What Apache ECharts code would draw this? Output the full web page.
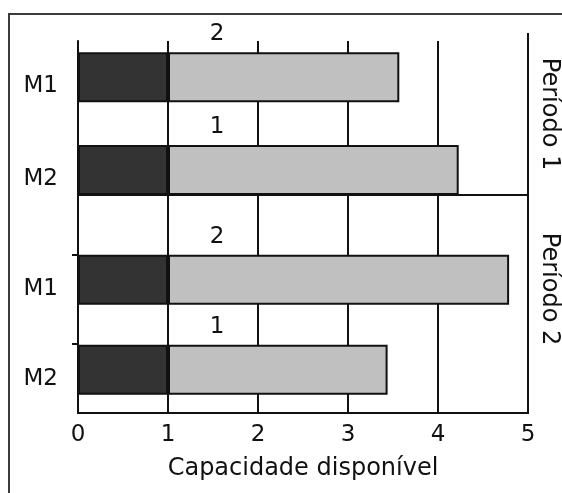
<!DOCTYPE html>
<html><head><meta charset="utf-8">
<script src="https://cdn.jsdelivr.net/npm/echarts@6/dist/echarts.min.js"></script>
<style>html,body{margin:0;padding:0;background:#fff}#c{width:562px;height:493px}</style>
</head><body><div id="c"></div>
<script>
// ---- data ----
const machines = ['M1', 'M2'];
const periods = ['Período 1', 'Período 2'];
const xMin = 0, xMax = 5, xStep = 1;
const setupEnd = [1, 1];          // dark segment ends (both periods)
const period1End = [3.57, 4.23];  // light segment ends, Período 1
const period2End = [4.79, 3.44];  // light segment ends, Período 2
const jobLabels = ['2', '1'];
const axisTitle = 'Capacidade disponível';

// ---- styles ----
const FONT = '"DejaVu Sans", sans-serif';
const DARK = '#333333', LIGHT = '#c0c0c0', INK = '#111111';

const chart = echarts.init(document.getElementById('c'), null, {renderer: 'canvas'});

function lightSeg(ends) { return ends.map((v, i) => +(v - setupEnd[i]).toFixed(2)); }

function periodSeries(idx, ends) {
  return [
    {
      type: 'bar', xAxisIndex: idx, yAxisIndex: idx, stack: 'p' + idx,
      barWidth: 50, data: setupEnd.slice(), silent: true,
      itemStyle: {color: DARK, borderColor: INK, borderWidth: 2}
    },
    {
      type: 'bar', xAxisIndex: idx, yAxisIndex: idx, stack: 'p' + idx,
      barWidth: 50, data: lightSeg(ends), silent: true,
      itemStyle: {color: LIGHT, borderColor: INK, borderWidth: 2},
      label: {
        show: true, position: [49, -18], align: 'center', verticalAlign: 'middle',
        formatter: p => jobLabels[p.dataIndex],
        fontFamily: FONT, fontSize: 23, color: INK
      }
    }
  ];
}

const hiddenX = idx => ({
  type: 'value', gridIndex: idx, min: xMin, max: xMax, interval: xStep,
  show: false
});
const catY = idx => ({
  type: 'category', gridIndex: idx, data: machines, inverse: true,
  axisLine: {show: false}, axisTick: {show: false}, splitLine: {show: false},
  axisLabel: {
    show: true, margin: 20, fontFamily: FONT, fontSize: 23, color: INK,
    verticalAlign: 'top', lineHeight: 18
  }
});

const gridBase = {left: 78, right: 34, containLabel: false, outerBoundsMode: 'none'};

chart.setOption({
  animation: false,
  backgroundColor: '#ffffff',
  grid: [
    Object.assign({top: 41, bottom: 80}, gridBase),
    Object.assign({top: 31, bottom: 276.6}, gridBase),
    Object.assign({top: 234.7, bottom: 78.3}, gridBase)
  ],
  xAxis: [
    {
      type: 'value', gridIndex: 0, min: xMin, max: xMax, interval: xStep,
      axisLine: {show: true, lineStyle: {color: INK, width: 2}},
      axisTick: {show: false},
      splitLine: {show: true, lineStyle: {color: INK, width: 2}},
      axisLabel: {margin: 11, fontFamily: FONT, fontSize: 23, color: INK},
      name: axisTitle, nameLocation: 'middle', nameGap: 44,
      nameTextStyle: {fontFamily: FONT, fontSize: 24, color: INK}
    },
    hiddenX(1), hiddenX(2)
  ],
  yAxis: [
    {
      type: 'value', gridIndex: 0, min: 0, max: 1,
      axisLine: {show: true, lineStyle: {color: INK, width: 2}},
      axisTick: {show: false}, axisLabel: {show: false}, splitLine: {show: false}
    },
    catY(1), catY(2)
  ],
  series: [].concat(periodSeries(1, period1End), periodSeries(2, period2End)),
  graphic: [
    {type: 'polyline', silent: true, shape: {points: [[9, 493], [9, 14], [562, 14]]},
     style: {stroke: '#3c3c3c', lineWidth: 2, fill: null}},
    {type: 'line', silent: true, shape: {x1: 528, y1: 33, x2: 528, y2: 414},
     style: {stroke: INK, lineWidth: 2}},
    {type: 'line', silent: true, shape: {x1: 78, y1: 195, x2: 528, y2: 195},
     style: {stroke: INK, lineWidth: 2}},
    {type: 'line', silent: true, shape: {x1: 72, y1: 255, x2: 78, y2: 255},
     style: {stroke: INK, lineWidth: 2}},
    {type: 'line', silent: true, shape: {x1: 72, y1: 344, x2: 78, y2: 344},
     style: {stroke: INK, lineWidth: 2}},
    {type: 'text', silent: true, x: 549, y: 114, rotation: -Math.PI / 2,
     style: {text: periods[0], font: '24px ' + FONT, fill: INK, align: 'center', verticalAlign: 'middle'}},
    {type: 'text', silent: true, x: 549, y: 289, rotation: -Math.PI / 2,
     style: {text: periods[1], font: '24px ' + FONT, fill: INK, align: 'center', verticalAlign: 'middle'}}
  ]
});
</script>
</body></html>
